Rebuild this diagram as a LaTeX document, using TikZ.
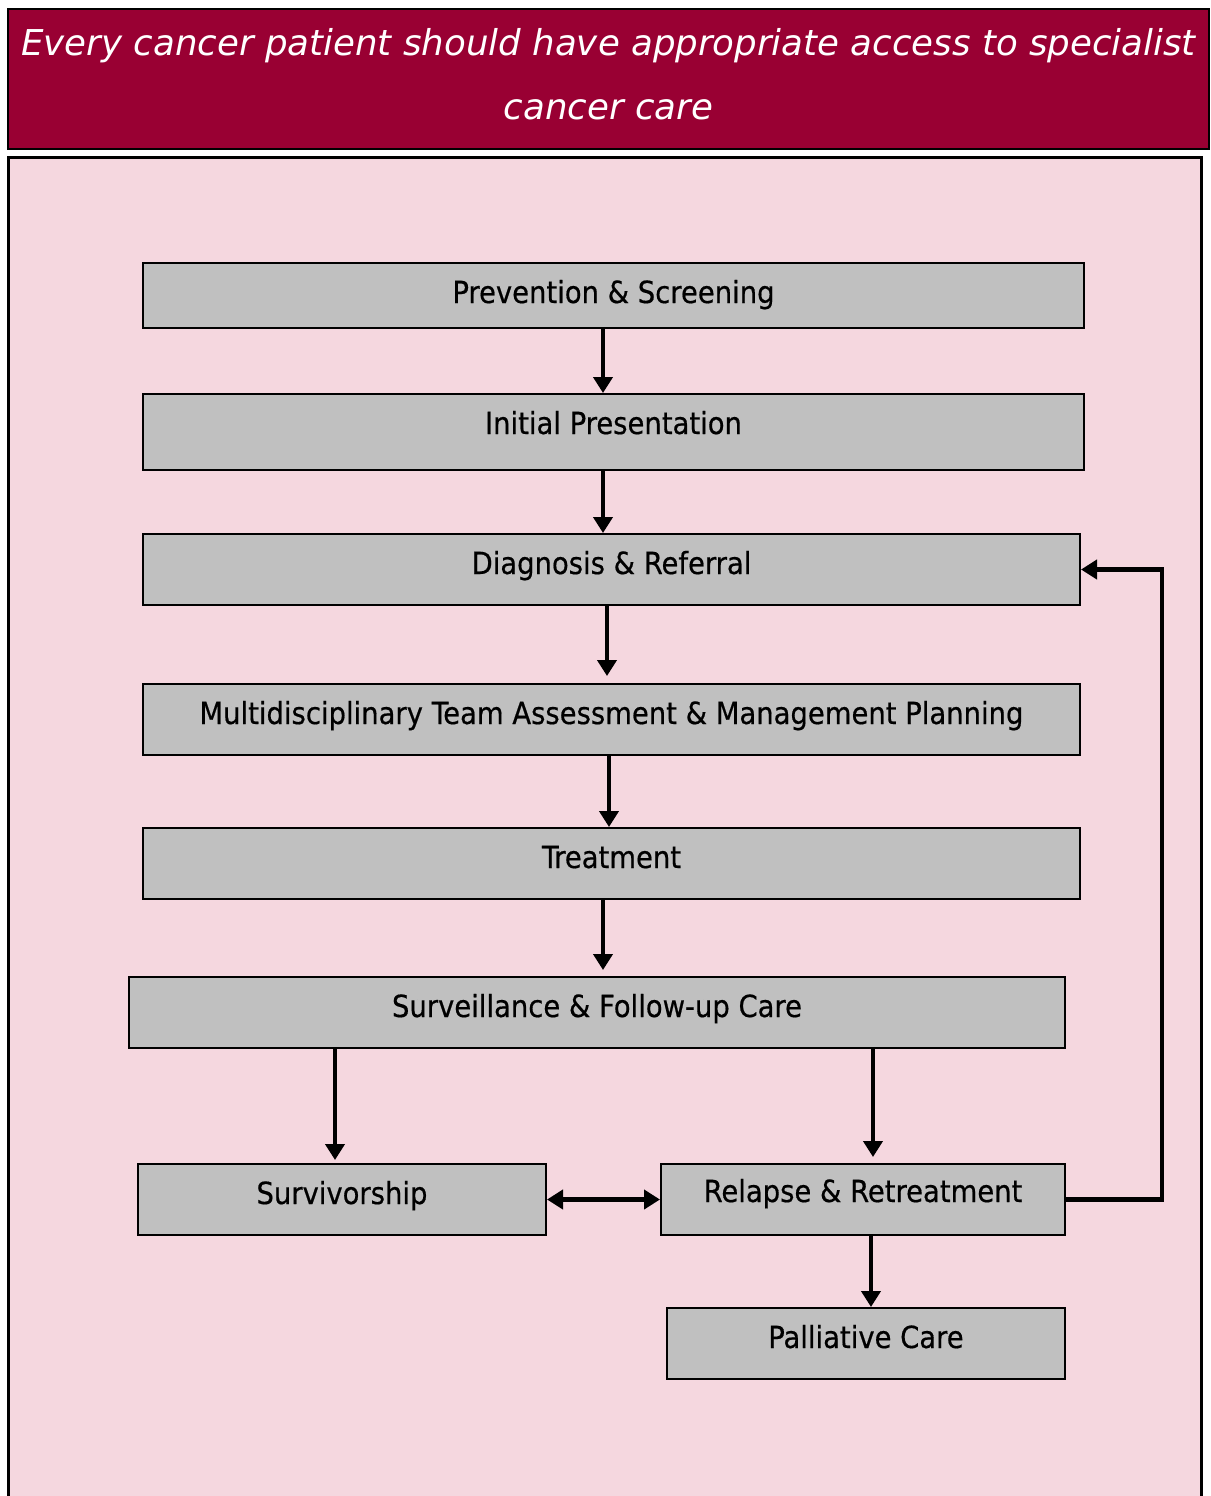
\documentclass[tikz,border=0pt]{standalone}
\usepackage{fontspec}
\setmainfont{DejaVu Sans Condensed}
\newfontfamily\bannerfont{DejaVu Sans}
\newfontfamily\blockfont{DejaVu Sans Condensed}[FakeBold=0.5]
\usepackage{tikz}
\usetikzlibrary{arrows.meta, shapes}
\definecolor{titlered}{HTML}{990033}
\definecolor{pathpink}{HTML}{F5D7DF}
\definecolor{boxgrey}{HTML}{C0C0C0}
\tikzstyle{arrow} = [line width=2.2pt, -{Triangle[length=8pt,width=9.5pt]}]
\tikzstyle{twoway} = [line width=2.2pt, {Triangle[length=8pt,width=9.5pt]}-{Triangle[length=8pt,width=9.5pt]}]
\tikzstyle{block} = [draw, line width=1pt, rectangle, fill=boxgrey, inner sep=0, text height=20pt, text depth=15.5pt, anchor=north, font=\blockfont\fontsize{15.25pt}{18pt}\selectfont]
\tikzstyle{banner} = [draw, line width=1.2pt, rectangle, fill=titlered, text=white, align=center, minimum width=600.5pt, minimum height=70pt, font=\bannerfont\fontsize{17.8pt}{32pt}\selectfont\itshape]

\begin{document}
\begin{tikzpicture}[x=0.5pt, y=-0.5pt]
        \useasboundingbox (0,0) rectangle (1211,1496);
        % background panel, open at the bottom
        \fill [pathpink] (8,157) rectangle (1201,1500);
        \draw [line width=1.5pt] (8,1500) -- (8,157) -- (1201,157) -- (1201,1500);

        \node [banner] (title) at (608.5,79) {Every cancer patient should have appropriate access to specialist\\cancer care\rule[-5pt]{0pt}{0pt}};

        \node [block, minimum width=470.5pt, text depth=12.5pt] (prevention) at (613.5,262) {Prevention \& Screening};
        \node [block, minimum width=470.5pt, text depth=18pt] (presentation) at (613.5,393) {Initial Presentation};
        \node [block, minimum width=468.5pt] (diagnosis) at (611.5,533) {Diagnosis \& Referral};
        \node [block, minimum width=468.5pt] (mdt) at (611.5,683) {Multidisciplinary Team Assessment \& Management Planning};
        \node [block, minimum width=468.5pt] (treatment) at (611.5,827) {Treatment};
        \node [block, minimum width=468pt] (surveillance) at (597,976) {Surveillance \& Follow-up Care};
        \node [block, minimum width=204pt] (survivorship) at (342,1163) {Survivorship};
        \node [block, minimum width=202pt, text height=19pt, text depth=16.5pt] (relapse) at (863,1163) {Relapse \& Retreatment};
        \node [block, minimum width=199pt] (palliative) at (866,1307) {Palliative Care};

        \draw [arrow] ([xshift=-5.25pt]prevention.south) -- ([xshift=-5.25pt]presentation.north);
        \draw [arrow] ([xshift=-5.25pt]presentation.south) -- ([xshift=-4.25pt]diagnosis.north);
        \draw [arrow, shorten >=3.5pt] ([xshift=-2.25pt]diagnosis.south) -- ([xshift=-2.25pt]mdt.north);
        \draw [arrow] ([xshift=-1.25pt]mdt.south) -- ([xshift=-1.25pt]treatment.north);
        \draw [arrow, shorten >=3pt] ([xshift=-4.25pt]treatment.south) -- ([xshift=3pt]surveillance.north);
        \draw [arrow, shorten >=1.5pt] ([xshift=-131pt]surveillance.south) -- ([xshift=-3.5pt]survivorship.north);
        \draw [arrow, shorten >=3pt] ([xshift=138pt]surveillance.south) -- ([xshift=5pt]relapse.north);
        \draw [twoway] (survivorship.east) -- (relapse.west);
        \draw [arrow] ([xshift=4pt]relapse.south) -- ([xshift=2.5pt]palliative.north);
        \draw [arrow] (relapse.east) -- ++(96,0) |- (diagnosis.east);
    \end{tikzpicture}
\end{document}
